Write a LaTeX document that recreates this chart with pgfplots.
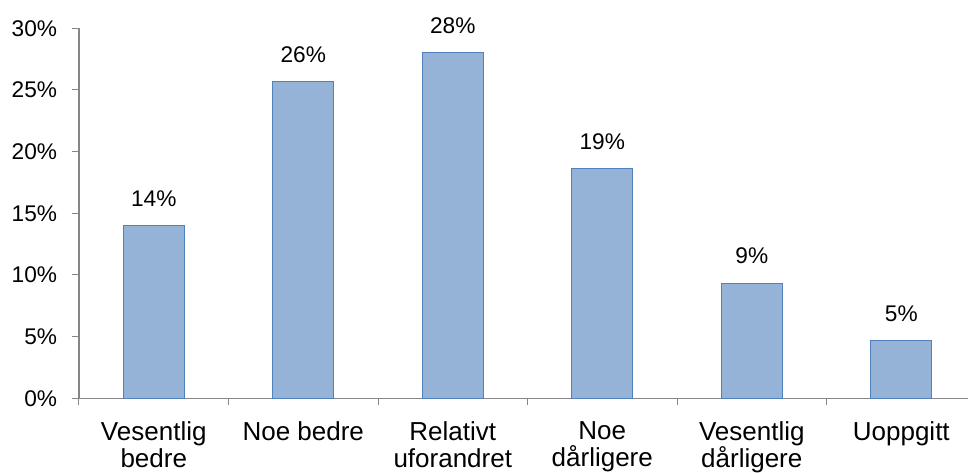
\documentclass[border=0pt]{standalone}
\usepackage{pgfplots}
\pgfplotsset{compat=1.18}
\usepackage{fontspec}
\setmainfont{Liberation Sans}
\definecolor{barfill}{HTML}{95B3D7}
\definecolor{baredge}{HTML}{4F81BD}
\definecolor{axgray}{HTML}{868686}
\begin{document}
\begin{tikzpicture}
\useasboundingbox (-59.25pt,-55.3pt) rectangle (666.75pt,298.7pt);
\clip (-59.25pt,-55.3pt) rectangle (666.75pt,298.7pt);
\begin{axis}[
  at={(0,0)}, anchor=south west,
  width=666.75pt, height=277.5pt, scale only axis,
  xmin=-0.5, xmax=5.446, ymin=0, ymax=30,
  clip=false,
  axis lines*=left,
  axis line style={axgray, line width=0.9pt},
  tick style={axgray, line width=0.75pt},
  tick align=outside,
  major tick length=5.25pt,
  ytick={0,5,...,30},
  yticklabel={\pgfmathprintnumber{\tick}\%},
  yticklabel style={font=\fontsize{17}{20}\selectfont, inner sep=0pt, xshift=-11pt},
  /pgf/number format/assume math mode=true,
  xtick={-0.5,0.5,...,4.5},
  xticklabels={,,,,,},
  extra x ticks={0,1,2,3,4,5},
  extra x tick labels={{Vesentlig\\bedre},{Noe bedre},{Relativt\\uforandret},{Noe\\dårligere},{Vesentlig\\dårligere},{Uoppgitt}},
  extra x tick style={major tick length=0pt},
  xticklabel style={font=\fontsize{19.5}{20.6}\selectfont, align=center, inner sep=0pt, yshift=-17pt},
  ybar, bar width=45.75pt,
  point meta=explicit symbolic,
  nodes near coords,
  every node near coord/.append style={font=\fontsize{17}{20}\selectfont, inner sep=0pt, yshift=14pt, text=black},
]
\addplot[fill=barfill, draw=baredge, line width=0.75pt] coordinates {
  (0,13.97) [14\%]
  (1,25.65) [26\%]
  (2,28.0)  [28\%]
  (3,18.6)  [19\%]
  (4,9.33)  [9\%]
  (5,4.67)  [5\%]
};
\end{axis}
\end{tikzpicture}
\end{document}
